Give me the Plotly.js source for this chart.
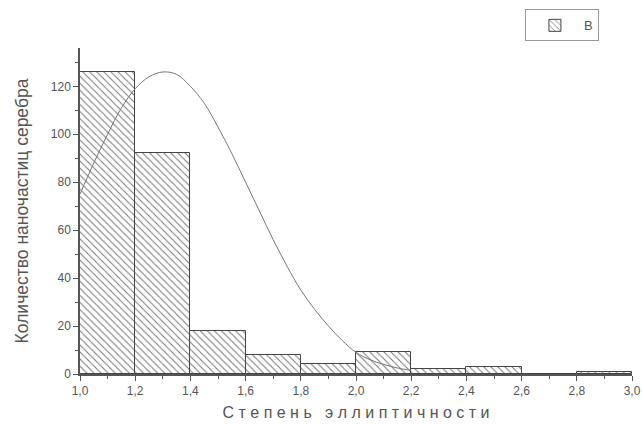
<!DOCTYPE html>
<html><head><meta charset="utf-8">
<script src="https://cdn.plot.ly/plotly-3.0.1.min.js"></script>
<style>html,body{margin:0;padding:0;background:#fff}#chart{width:642px;height:425px}</style>
</head><body><div id="chart"></div>
<script>
const binCenters = [1.1, 1.3, 1.5, 1.7, 1.9, 2.1, 2.3, 2.5, 2.7, 2.9];
const counts = [126, 92, 18, 8, 4, 9, 2, 3, 0, 1];
const curveX = [1.0,1.05,1.1,1.15,1.2,1.25,1.3,1.35,1.4,1.45,1.5,1.55,1.6,1.65,1.7,1.75,1.8,1.85,1.9,1.95,2.0,2.05,2.1,2.15,2.2];
const curveY = [75,88,100,111,119,124,126,125,120,113,103,92,80,68,56,45,35,27,20,14,9,6,4,2.5,1.5];
const xTicks = [1.0,1.2,1.4,1.6,1.8,2.0,2.2,2.4,2.6,2.8,3.0];
const xTickLabels = ["1,0","1,2","1,4","1,6","1,8","2,0","2,2","2,4","2,6","2,8","3,0"];

const gray = '#555';
const data = [
  {type:'bar', x:binCenters, y:counts, width:0.2, name:'B',
   marker:{color:'#fff', line:{color:'#444', width:1},
     pattern:{shape:'\\', fgcolor:'#777', bgcolor:'#fff', size:5, solidity:0.2}}},
  {type:'scatter', mode:'lines', x:curveX, y:curveY, showlegend:false,
   line:{color:'#777', width:1, shape:'spline'}}
];
const layout = {
  width:642, height:425,
  margin:{l:80, r:10, t:47, b:51},
  paper_bgcolor:'#fff', plot_bgcolor:'#fff',
  font:{family:'Liberation Sans, Arial, sans-serif', color:gray},
  showlegend:true,
  legend:{x:0.806, y:1.115, xanchor:'left', yanchor:'top', bordercolor:'#999', borderwidth:1,
    itemwidth:48, font:{size:13, color:gray}, bgcolor:'#fff'},
  bargap:0,
  xaxis:{range:[1.0,3.0], tickvals:xTicks, ticktext:xTickLabels, ticks:'outside', ticklen:5,
    tickcolor:'#555', showline:true, linecolor:'#555', linewidth:1.5, showgrid:false, zeroline:false,
    tickfont:{size:12, color:gray},
    minor:{dtick:0.1, tick0:1.0, ticks:'outside', ticklen:3, tickcolor:'#555'},
    title:{text:'С т е п е н ь   э л л и п т и ч н о с т и', font:{size:16, color:gray}, standoff:10}},
  yaxis:{range:[0,136], tickvals:[0,20,40,60,80,100,120], ticks:'outside', ticklen:5,
    tickcolor:'#555', showline:true, linecolor:'#555', linewidth:1.5, showgrid:false, zeroline:false,
    tickfont:{size:12, color:gray},
    minor:{dtick:10, tick0:0, ticks:'outside', ticklen:3, tickcolor:'#555'},
    title:{text:'Количество наночастиц серебра', font:{size:17.5, color:gray}, standoff:18}}
};
Plotly.newPlot('chart', data, layout, {displayModeBar:false});
</script></body></html>
